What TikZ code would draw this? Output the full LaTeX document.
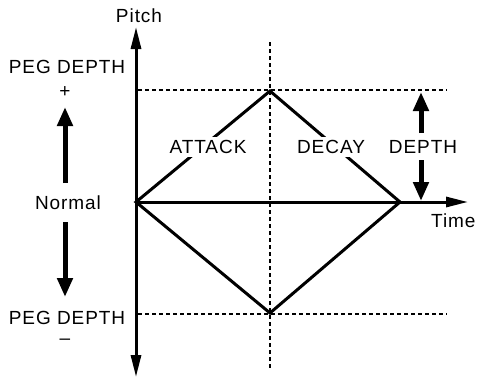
\documentclass[tikz,border=0pt]{standalone}
\usepackage{fontspec}
\setmainfont{Liberation Sans}[LetterSpace=5]
\usetikzlibrary{arrows.meta}
\begin{document}
\begin{tikzpicture}[x=1pt,y=-1pt,
  txt/.style={font=\fontsize{19}{22}\selectfont, inner sep=1pt},
  gaplbl/.style={txt, fill=white, inner sep=3pt},
  guide/.style={line width=1.2pt, dash pattern=on 4pt off 3pt},
  axis/.style={line width=3pt, -{Triangle[length=22pt,width=10pt]}},
  curve/.style={line width=3pt, line join=miter},
  fat/.style={line width=5pt, -{Triangle[length=19pt,width=15pt]}}]
\useasboundingbox (0,0) rectangle (480,378);
% coordinates
\coordinate (O) at (136,202);
\coordinate (ytop) at (136,27);
\coordinate (ybot) at (136,377);
\coordinate (xend) at (468,202);
\coordinate (peak) at (270,91);
\coordinate (trough) at (270,313);
\coordinate (R) at (400,202);
\coordinate (gtl) at (138,90);
\coordinate (gtr) at (447,90);
\coordinate (gbl) at (138,314);
\coordinate (gbr) at (447,314);
\coordinate (gvt) at (270,42);
\coordinate (gvb) at (270,370);
\coordinate (pu0) at (65,183);
\coordinate (pu1) at (65,107);
\coordinate (pd0) at (65,222);
\coordinate (pd1) at (65,297);
\coordinate (du0) at (421,133);
\coordinate (du1) at (421,92);
\coordinate (dd0) at (421,160);
\coordinate (dd1) at (421,201);
% guides
\draw[guide] (gtl) -- (gtr);
\draw[guide] (gbl) -- (gbr);
\draw[guide] (gvt) -- (gvb);
% axes
\draw[axis] (O) -- (ytop);
\draw[axis] (O) -- (ybot);
\draw[axis] (O) -- (xend);
% envelope
\draw[curve] (O) -- (peak) -- (R) -- (trough) -- cycle;
% labels
\node[txt] (pitch) at (139,16) {Pitch};
\node[txt] (pegp) at (67,67) {PEG DEPTH};
\node[txt] (plus) at (65,92) {+};
\node[txt] (normal) at (68,203) {Normal};
\node[txt] (pegm) at (67,318) {PEG DEPTH};
\node[txt] (minus) at (65,342) {--};
\node[gaplbl] (attack) at (208,147) {ATTACK};
\node[gaplbl] (decay) at (331,147) {DECAY};
\node[txt] (depth) at (423,147) {DEPTH};
\node[txt, anchor=west] (time) at (430,221) {Time};
% fat arrows
\draw[fat] (pu0) -- (pu1);
\draw[fat] (pd0) -- (pd1);
\draw[fat] (du0) -- (du1);
\draw[fat] (dd0) -- (dd1);
\end{tikzpicture}
\end{document}
